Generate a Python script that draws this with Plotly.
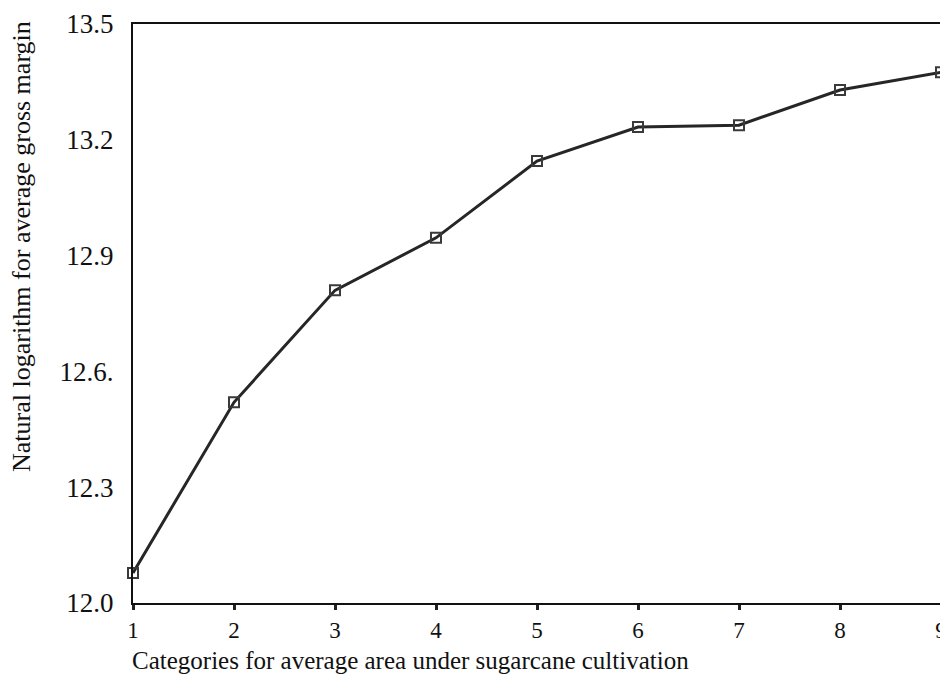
import plotly.graph_objects as go

categories = [1, 2, 3, 4, 5, 6, 7, 8, 9]
log_gross_margin = [12.078, 12.52, 12.81, 12.946, 13.145, 13.233, 13.238, 13.329, 13.375]
y_tick_vals = [12.0, 12.3, 12.6, 12.9, 13.2, 13.5]
y_tick_text = ["12.0", "12.3", "12.6.", "12.9", "13.2", "13.5"]
x_tick_vals = [1, 2, 3, 4, 5, 6, 7, 8, 9]
x_title = "Categories for average area under sugarcane cultivation"
y_title = "Natural logarithm for average gross margin"

font_family = "Liberation Serif"

fig = go.Figure()
fig.add_trace(go.Scatter(
    x=categories, y=log_gross_margin, mode="lines+markers",
    line=dict(color="#262626", width=3),
    marker=dict(symbol="square-open", size=10, color="#3a3a3a", line=dict(width=2)),
    cliponaxis=False, showlegend=False,
))

fig.update_layout(
    width=940, height=674,
    margin=dict(l=125, r=7, t=16, b=79, autoexpand=False),
    paper_bgcolor="white", plot_bgcolor="white",
    font=dict(family=font_family, color="#111"),
    xaxis=dict(
        range=[1, 9], tickvals=x_tick_vals, ticks="outside", ticklen=5, tickwidth=3,
        tickcolor="#222", showgrid=False, zeroline=False, showline=True, linecolor="#111",
        linewidth=2, mirror=True, tickfont=dict(size=23, family=font_family),
        ticklabeloverflow="allow", automargin=False,
    ),
    yaxis=dict(
        range=[12.0, 13.5], tickvals=y_tick_vals, ticktext=y_tick_text, ticks="",
        showgrid=False, zeroline=False, showline=True, linecolor="#111", linewidth=2,
        mirror=True, tickfont=dict(size=27, family=font_family), ticklabelstandoff=12,
        automargin=False,
    ),
    annotations=[
        dict(text=x_title, xref="paper", yref="paper", x=0.344, y=0, yshift=-57,
             xanchor="center", yanchor="middle", showarrow=False,
             font=dict(size=25, family=font_family, color="#111")),
        dict(text=y_title, xref="paper", yref="paper", x=-0.1374, y=0.6166,
             textangle=-90, xanchor="center", yanchor="middle", showarrow=False,
             font=dict(size=26, family=font_family, color="#111")),
    ],
)

fig.write_html("out.html")
